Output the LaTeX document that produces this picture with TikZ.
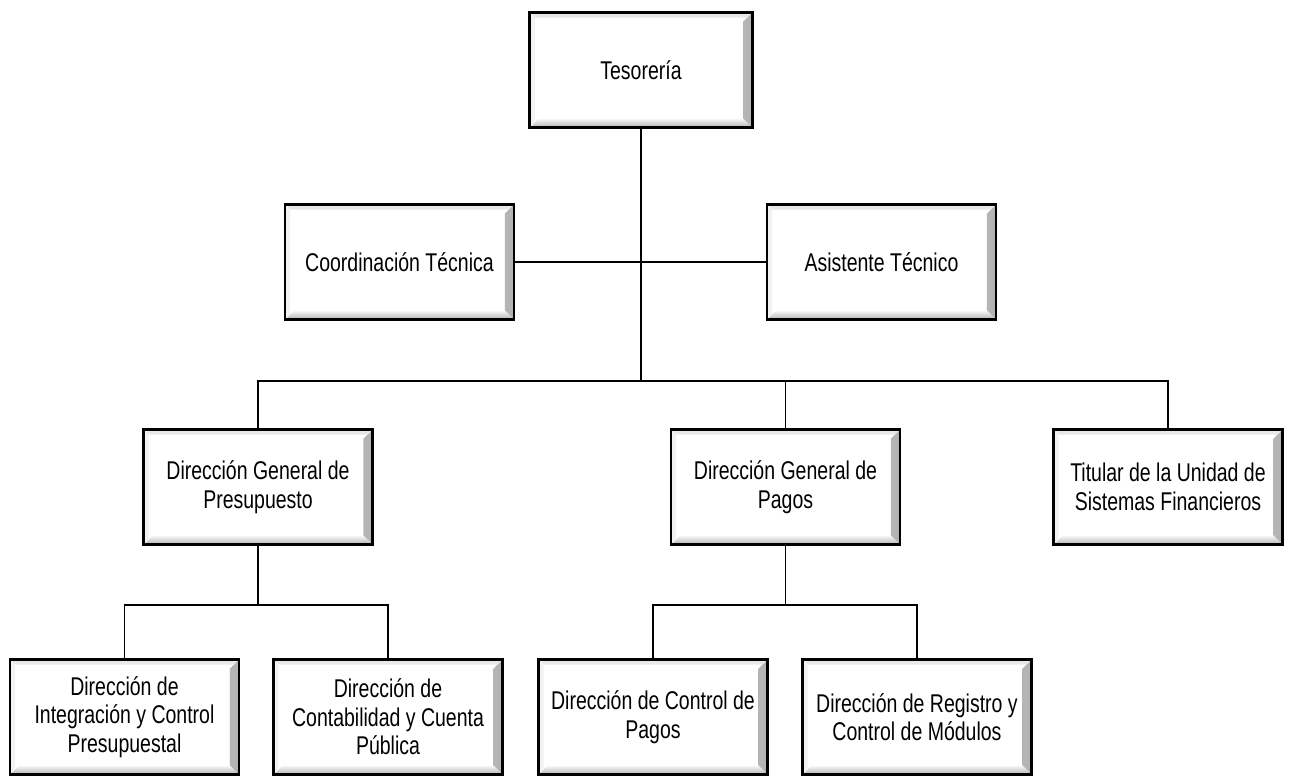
\documentclass[tikz,border=0pt]{standalone}
\usepackage{fontspec}
\setmainfont{Liberation Sans}[FakeStretch=0.76]
\usetikzlibrary{calc}

\tikzset{
  unitbox/.style={draw=black, line width=1.6pt, fill=white, align=center,
    minimum width=4.58cm, minimum height=2.3cm, inner sep=1pt,
    font=\fontsize{14.6}{16.3}\selectfont,
    path picture={
      % bevel on the right and lower edges
      \shade[left color=gray!5, right color=gray!60]
        (path picture bounding box.north east) -- (path picture bounding box.south east)
        -- ($(path picture bounding box.south east)+(-0.18cm,0.18cm)$)
        -- ($(path picture bounding box.north east)+(-0.18cm,-0.18cm)$) -- cycle;
      \shade[top color=gray!5, bottom color=gray!60]
        (path picture bounding box.south west) -- (path picture bounding box.south east)
        -- ($(path picture bounding box.south east)+(-0.18cm,0.18cm)$)
        -- ($(path picture bounding box.south west)+(0.18cm,0.18cm)$) -- cycle;
      % faint bevel on the upper and left edges
      \fill[gray!18]
        (path picture bounding box.north west) -- (path picture bounding box.north east)
        -- ($(path picture bounding box.north east)+(-0.1cm,-0.1cm)$)
        -- ($(path picture bounding box.north west)+(0.1cm,-0.1cm)$) -- cycle;
      \fill[gray!10]
        (path picture bounding box.north west) -- (path picture bounding box.south west)
        -- ($(path picture bounding box.south west)+(0.1cm,0.1cm)$)
        -- ($(path picture bounding box.north west)+(0.1cm,-0.1cm)$) -- cycle;
    }},
  link/.style={draw=black, line width=0.6pt},
  stem/.style={draw=black, line width=1.1pt}
}

\begin{document}
\begin{tikzpicture}[x=0.02cm, y=-0.02cm]
  \useasboundingbox (0,0) rectangle (1289,775);
  % Top level
  \node[unitbox, minimum width=4.45cm] (tes) at (641,70) {Tesorería};
  % Staff units
  \node[unitbox] (coord) at (399.5,262) {Coordinación Técnica};
  \node[unitbox] (asis) at (881.5,262) {Asistente Técnico};
  % General directions
  \node[unitbox] (dgpres) at (258,487) {Dirección General de\\Presupuesto};
  \node[unitbox] (dgpag) at (785.5,487) {Dirección General de\\Pagos};
  \node[unitbox] (tusf) at (1168,487) {Titular de la Unidad de\\Sistemas Financieros};
  % Directions
  \node[unitbox] (dicp) at (124.5,717) {Dirección de\\Integración y Control\\Presupuestal};
  \node[unitbox] (dccp) at (388,717) {Dirección de\\Contabilidad y Cuenta\\Pública};
  \node[unitbox] (dcp) at (653,717) {Dirección de Control de\\Pagos};
  \node[unitbox] (drcm) at (917,717) {Dirección de Registro y\\Control de Módulos};
  % Junctions
  \coordinate (j1) at (643,381);
  \coordinate (j2) at (258,605);
  \coordinate (j3) at (785.5,605);
  % Connectors
  \draw[link] (tes.south) -- (tes.south |- j1);
  \draw[link] (coord.east) -- (asis.west);
  \draw[link] (dgpres.north) |- (tusf.north |- j1) -- (tusf.north);
  \draw[link] (dgpag.north) -- (dgpag.north |- j1);
  \draw[stem] (dgpres.south) -- (j2);
  \draw[link] (dicp.north) |- (dccp.north |- j2) -- (dccp.north);
  \draw[stem] (dgpag.south) -- (j3);
  \draw[link] (dcp.north) |- (drcm.north |- j3) -- (drcm.north);
\end{tikzpicture}
\end{document}
